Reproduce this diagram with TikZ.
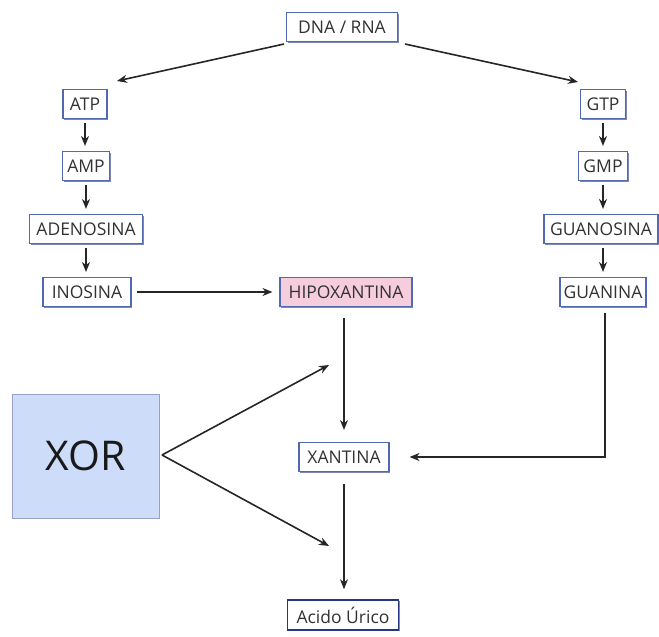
\documentclass[tikz,border=0pt]{standalone}
\usepackage{fontspec}
\setmainfont{Open Sans}
\usetikzlibrary{arrows.meta,shadows}
\definecolor{boxline}{RGB}{80,105,180}
\definecolor{boxshade}{RGB}{35,55,135}
\definecolor{txt}{RGB}{50,50,50}
\definecolor{pinkfill}{RGB}{246,205,220}
\definecolor{xorfill}{RGB}{205,220,248}
\definecolor{xorline}{RGB}{150,160,200}
\begin{document}
\begin{tikzpicture}[x=1pt,y=-1pt,
  box/.style={draw=boxline,line width=1.1pt,fill=white,rectangle,
    minimum height=29pt,inner xsep=0pt,inner ysep=0pt,
    drop shadow={shadow xshift=1pt,shadow yshift=-1pt,fill=boxshade,opacity=0.6},
    font=\fontsize{17.5}{19}\selectfont,text=txt},
  flow/.style={-{Stealth[length=10pt,width=8pt]},line width=1.6pt,black!85}]
\useasboundingbox (0,0) rectangle (659,637);
% top source
\node[box,minimum width=111pt] (dna) at (342,27) {DNA / RNA};
% adenine branch
\node[box,minimum width=44pt] (atp) at (85,104) {ATP};
\node[box,minimum width=47pt] (amp) at (86,166) {AMP};
\node[box,minimum width=113pt] (ade) at (86,229) {ADENOSINA};
\node[box,minimum width=88pt] (ino) at (87,292) {INOSINA};
% guanine branch
\node[box,minimum width=45pt] (gtp) at (603,104) {GTP};
\node[box,minimum width=49pt] (gmp) at (603,166) {GMP};
\node[box,minimum width=114pt] (guo) at (601,229) {GUANOSINA};
\node[box,minimum width=86pt] (gua) at (603,292) {GUANINA};
% common path
\node[box,fill=pinkfill,minimum width=132pt] (hipo) at (346,292) {HIPOXANTINA};
\node[box,minimum width=90pt] (xan) at (344,457) {XANTINA};
\node[box,line width=1.6pt,draw=boxshade,minimum width=111pt,minimum height=30pt] (uric) at (343,615) {Acido Úrico};
% enzyme
\node[draw=xorline,fill=xorfill,line width=0.8pt,minimum width=147pt,minimum height=124pt,
  font=\fontsize{41}{45}\selectfont,text=black!90] (xor) at (86,456) {XOR};
\coordinate (fork) at (162,455);
\coordinate (upend) at (329,365);
\coordinate (downend) at (329,546);
\coordinate (dnaL) at (284,44);
\coordinate (dnaR) at (405,44);
\coordinate (atpIn) at (117,81);
\coordinate (gtpIn) at (578,82);
\coordinate (hipoOut) at (344,318);
\coordinate (guaOut) at (605,313);
% connectors
\draw[flow] (dnaL) -- (atpIn);
\draw[flow] (dnaR) -- (gtpIn);
\draw[flow] ([yshift=-4pt]atp.south) -- ([yshift=5pt]atp.south |- amp.north);
\draw[flow] ([yshift=-4pt]amp.south) -- ([yshift=5pt]amp.south |- ade.north);
\draw[flow] ([yshift=-4pt]amp.south |- ade.south) -- ([yshift=5pt]amp.south |- ino.north);
\draw[flow] ([yshift=-4pt]gtp.south) -- ([yshift=5pt]gtp.south |- gmp.north);
\draw[flow] ([yshift=-4pt]gmp.south) -- ([yshift=5pt]gmp.south |- guo.north);
\draw[flow] ([yshift=-4pt]gmp.south |- guo.south) -- ([yshift=5pt]gmp.south |- gua.north);
\draw[flow] ([xshift=5pt]ino.east) -- ([xshift=-7pt]hipo.west);
\draw[flow] (hipoOut) -- ([yshift=12pt]hipoOut |- xan.north);
\draw[flow] (guaOut) |- ([xshift=20pt]xan.east);
\draw[flow] ([yshift=-12pt]hipoOut |- xan.south) -- ([yshift=10pt]hipoOut |- uric.north);
\draw[flow] (fork) -- (upend);
\draw[flow] (fork) -- (downend);
\end{tikzpicture}
\end{document}
